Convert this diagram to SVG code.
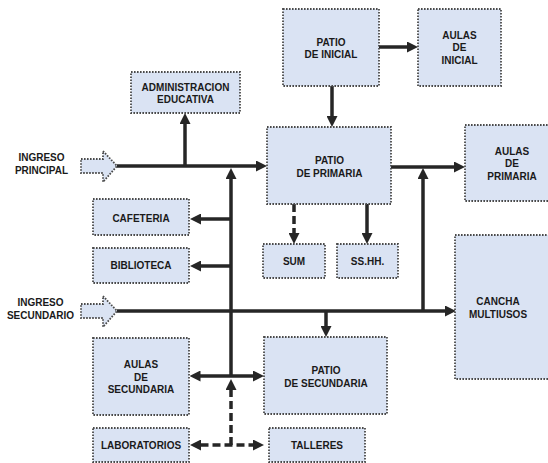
<svg xmlns="http://www.w3.org/2000/svg" width="548" height="463" viewBox="0 0 548 463">
<defs>
<style>
.box{fill:#dae3f3;stroke:#4a4a4a;stroke-width:1.8;stroke-dasharray:1.6 1.4}
.t{font-family:"Liberation Sans",Arial,sans-serif;font-weight:bold;font-size:10px;fill:#1a1a1a;text-anchor:middle}
.c{fill:none;stroke:#262626;stroke-width:3.5}
.d{stroke-dasharray:8 4}
.e{marker-end:url(#ah)}
.s{marker-start:url(#ah)}
</style>
<marker id="ah" markerUnits="userSpaceOnUse" viewBox="0 0 11 11" markerWidth="11" markerHeight="11" refX="0.5" refY="5.5" orient="auto-start-reverse">
<path d="M0,0 L11,5.5 L0,11 z" fill="#262626"/>
</marker>
</defs>
<rect width="548" height="463" fill="#ffffff"/>

<g id="connectors">
<path class="c e" d="M117,166 H256.5"/>
<path class="c e" d="M185,166 V123.5"/>
<path class="c e" d="M231,376 V178.5"/>
<path class="c e" d="M231,219 H200.5"/>
<path class="c e" d="M231,266 H200.5"/>
<path class="c e" d="M379,47 H407.5"/>
<path class="c e" d="M332,86 V116.5"/>
<path class="c e" d="M391,167 H454.5"/>
<path class="c e" d="M423,311 V178.5"/>
<path class="c d e" d="M294,204 V233.5"/>
<path class="c e" d="M367,204 V233.5"/>
<path class="c e" d="M117,311 H445.5"/>
<path class="c e" d="M326,311 V326.5"/>
<path class="c s e" d="M200,376 H253.5"/>
<path class="c d e" d="M231,445 V389.5"/>
<path class="c d s e" d="M200.5,445 H253.5"/>
</g>

<g id="ingreso-principal">
<path class="box" d="M81,159 H103 V151 L117,166 L103,182 V173 H81 Z"/>
<text class="t" x="41.5" y="161">INGRESO</text>
<text class="t" x="41.5" y="174">PRINCIPAL</text>
</g>
<g id="ingreso-secundario">
<path class="box" d="M81,304 H103 V296 L117,311 L103,327 V318 H81 Z"/>
<text class="t" x="40.5" y="306">INGRESO</text>
<text class="t" x="40.5" y="319">SECUNDARIO</text>
</g>

<g id="administracion">
<rect class="box" x="131" y="72" width="109" height="41"/>
<text class="t" x="185.5" y="90.5">ADMINISTRACION</text>
<text class="t" x="185.5" y="102.5">EDUCATIVA</text>
</g>
<g id="patio-inicial">
<rect class="box" x="283" y="9" width="96" height="77"/>
<text class="t" x="331" y="45.5">PATIO</text>
<text class="t" x="331" y="58">DE INICIAL</text>
</g>
<g id="aulas-inicial">
<rect class="box" x="418" y="9" width="83" height="77"/>
<text class="t" x="459.5" y="38.5">AULAS</text>
<text class="t" x="459.5" y="51">DE</text>
<text class="t" x="459.5" y="64">INICIAL</text>
</g>
<g id="patio-primaria">
<rect class="box" x="267" y="127" width="124" height="77"/>
<text class="t" x="329.5" y="164">PATIO</text>
<text class="t" x="329.5" y="177">DE PRIMARIA</text>
</g>
<g id="aulas-primaria">
<rect class="box" x="465" y="125" width="92" height="76"/>
<text class="t" x="512" y="155">AULAS</text>
<text class="t" x="512" y="167">DE</text>
<text class="t" x="512" y="180">PRIMARIA</text>
</g>
<g id="cafeteria">
<rect class="box" x="93" y="199" width="96" height="36"/>
<text class="t" x="141" y="221.5">CAFETERIA</text>
</g>
<g id="biblioteca">
<rect class="box" x="93" y="248" width="96" height="35"/>
<text class="t" x="141" y="268.5">BIBLIOTECA</text>
</g>
<g id="sum">
<rect class="box" x="263" y="244" width="62" height="34"/>
<text class="t" x="294" y="264.5">SUM</text>
</g>
<g id="sshh">
<rect class="box" x="337" y="244" width="61" height="34"/>
<text class="t" x="367.5" y="264.5">SS.HH.</text>
</g>
<g id="cancha">
<rect class="box" x="455" y="235" width="102" height="144"/>
<text class="t" x="498" y="304.5">CANCHA</text>
<text class="t" x="498" y="317.5">MULTIUSOS</text>
</g>
<g id="aulas-secundaria">
<rect class="box" x="93" y="338" width="96" height="77"/>
<text class="t" x="141" y="368">AULAS</text>
<text class="t" x="141" y="380.5">DE</text>
<text class="t" x="141" y="393">SECUNDARIA</text>
</g>
<g id="patio-secundaria">
<rect class="box" x="264" y="337" width="123" height="77"/>
<text class="t" x="326" y="374">PATIO</text>
<text class="t" x="326" y="386.5">DE SECUNDARIA</text>
</g>
<g id="laboratorios">
<rect class="box" x="93" y="428" width="96" height="34"/>
<text class="t" x="141" y="448.5">LABORATORIOS</text>
</g>
<g id="talleres">
<rect class="box" x="269" y="428" width="96" height="34"/>
<text class="t" x="317" y="448.5">TALLERES</text>
</g>
</svg>
